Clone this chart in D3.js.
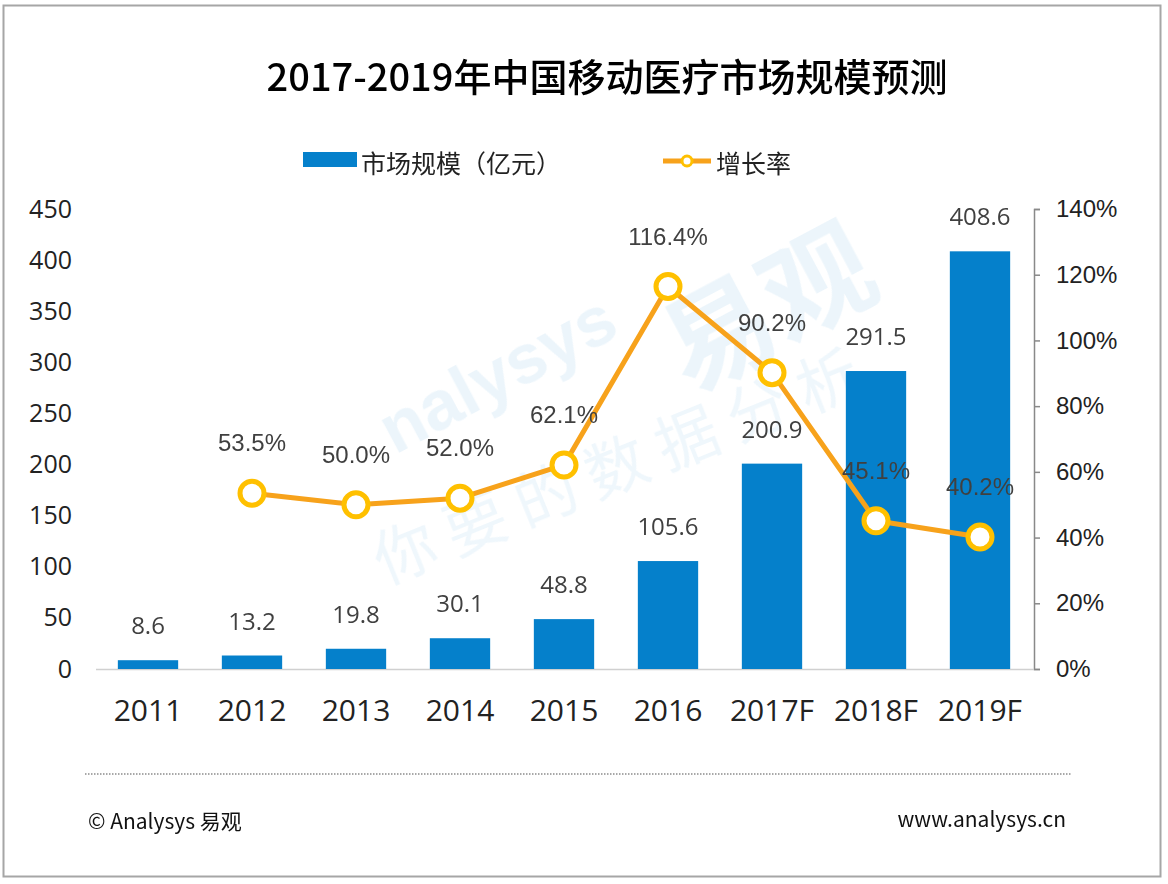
<!DOCTYPE html>
<html>
<head>
<meta charset="utf-8">
<script src="https://cdn.jsdelivr.net/npm/d3@7"></script>
<style>
  html, body { margin: 0; padding: 0; background: #fff; }
  svg { display: block; }
</style>
</head>
<body>
<div id="chart"></div>
<script>
// chart data
var years = ['2011', '2012', '2013', '2014', '2015', '2016', '2017F', '2018F', '2019F'];
var marketSize = [8.6, 13.2, 19.8, 30.1, 48.8, 105.6, 200.9, 291.5, 408.6];
var growthYears = ['2012', '2013', '2014', '2015', '2016', '2017F', '2018F', '2019F'];
var growthRate = [53.5, 50.0, 52.0, 62.1, 116.4, 90.2, 45.1, 40.2];
var leftTicks = [0, 50, 100, 150, 200, 250, 300, 350, 400, 450];
var rightTicks = [0, 20, 40, 60, 80, 100, 120, 140];

var title = '2017-2019年中国移动医疗市场规模预测';
var barName = '市场规模（亿元）';
var lineName = '增长率';

var width = 1168, height = 884;
var plot = { left: 96, right: 1034, top: 209, bottom: 669 };
var barColor = '#0580CB';
var lineColor = '#F7A21B';
var markerColor = '#FFC000';
var cjk = '"Noto Sans CJK SC", "Noto Sans", sans-serif';
var num = '"Open Sans", "Noto Sans", sans-serif';
var arial = '"Liberation Sans", Arial, sans-serif';

var svg = d3.select('#chart').append('svg')
  .attr('width', width)
  .attr('height', height);

// frame
svg.append('rect')
  .attr('x', 3.5).attr('y', 5.5)
  .attr('width', 1157).attr('height', 871)
  .attr('fill', '#fff')
  .attr('stroke', '#a6a6a6')
  .attr('stroke-width', 2);

// watermark
var wm = svg.append('g').attr('opacity', 0.4);
wm.append('text')
  .attr('transform', 'translate(395,455) rotate(-28)')
  .attr('font-family', arial)
  .attr('font-weight', 'bold')
  .attr('font-size', 70)
  .attr('fill', '#cfe6f5')
  .text('nalysys');
wm.append('text')
  .attr('transform', 'translate(690,395) rotate(-28)')
  .attr('font-family', cjk)
  .attr('font-weight', 'bold')
  .attr('font-size', 110)
  .attr('fill', '#cfe6f5')
  .text('易观');
wm.append('text')
  .attr('transform', 'translate(385,585) rotate(-22)')
  .attr('font-family', cjk)
  .attr('font-size', 62)
  .attr('letter-spacing', 14)
  .attr('fill', '#d6eaf7')
  .text('你要的数据分析');

// title
svg.append('text')
  .attr('x', 607).attr('y', 91)
  .attr('text-anchor', 'middle')
  .attr('font-family', cjk)
  .attr('font-size', 38)
  .attr('font-weight', 500)
  .attr('fill', '#000')
  .text(title);

// legend
svg.append('rect')
  .attr('x', 303).attr('y', 152)
  .attr('width', 54).attr('height', 15)
  .attr('fill', barColor);
svg.append('text')
  .attr('x', 361).attr('y', 173)
  .attr('font-family', cjk)
  .attr('font-size', 25)
  .attr('fill', '#222')
  .text(barName);
svg.append('line')
  .attr('x1', 663).attr('x2', 711)
  .attr('y1', 161).attr('y2', 161)
  .attr('stroke', lineColor)
  .attr('stroke-width', 5);
svg.append('circle')
  .attr('cx', 687).attr('cy', 161).attr('r', 5)
  .attr('fill', '#fff')
  .attr('stroke', markerColor)
  .attr('stroke-width', 3);
svg.append('text')
  .attr('x', 716).attr('y', 173)
  .attr('font-family', cjk)
  .attr('font-size', 25)
  .attr('fill', '#222')
  .text(lineName);

// scales
var xScale = d3.scaleBand()
  .domain(years)
  .range([plot.left, plot.right - 2])
  .paddingInner(0.42)
  .paddingOuter(0.21);
var yLeft = d3.scaleLinear()
  .domain([0, 450])
  .range([plot.bottom, plot.top]);
var yRight = d3.scaleLinear()
  .domain([0, 140])
  .range([plot.bottom, plot.top]);

// left axis (labels only)
var leftAxis = svg.append('g')
  .attr('transform', 'translate(72,0)')
  .call(d3.axisLeft(yLeft).tickValues(leftTicks).tickSize(0).tickPadding(0));
leftAxis.select('.domain').remove();
leftAxis.selectAll('text')
  .attr('font-family', num)
  .attr('font-size', 25)
  .attr('fill', '#222');

// right axis
var rightAxis = svg.append('g')
  .attr('transform', 'translate(' + plot.right + ',0)')
  .call(d3.axisRight(yRight)
    .tickValues(rightTicks)
    .tickSize(6)
    .tickSizeOuter(6)
    .tickPadding(16)
    .tickFormat(function(d){ return d + '%'; }));
rightAxis.select('.domain').attr('stroke', '#898989').attr('stroke-width', 1.5);
rightAxis.selectAll('.tick line').attr('stroke', '#898989').attr('stroke-width', 1.5);
rightAxis.selectAll('text')
  .attr('font-family', arial)
  .attr('font-size', 24)
  .attr('fill', '#222');

// baseline
svg.append('line')
  .attr('x1', plot.left).attr('x2', plot.right)
  .attr('y1', plot.bottom + 0.5).attr('y2', plot.bottom + 0.5)
  .attr('stroke', '#d0d0d0')
  .attr('stroke-width', 1.5);

// x axis labels
var xAxis = svg.append('g')
  .attr('transform', 'translate(0,' + (plot.bottom + 31) + ')')
  .call(d3.axisBottom(xScale).tickSize(0).tickPadding(0));
xAxis.select('.domain').remove();
xAxis.selectAll('text')
  .attr('font-family', num)
  .attr('font-size', 30)
  .attr('fill', '#222');

// bars
svg.append('g')
  .selectAll('rect')
  .data(marketSize)
  .enter()
  .append('rect')
  .attr('x', function(d, i){ return xScale(years[i]); })
  .attr('y', function(d){ return yLeft(d); })
  .attr('width', xScale.bandwidth())
  .attr('height', function(d){ return plot.bottom - yLeft(d); })
  .attr('fill', barColor);

svg.append('g')
  .selectAll('text')
  .data(marketSize)
  .enter()
  .append('text')
  .attr('x', function(d, i){ return xScale(years[i]) + xScale.bandwidth() / 2; })
  .attr('y', function(d){ return yLeft(d) - 26; })
  .attr('text-anchor', 'middle')
  .attr('font-family', num)
  .attr('font-size', 24)
  .attr('fill', '#404040')
  .text(function(d){ return d.toFixed(1); });

// growth line
var cx = function(i){ return xScale(growthYears[i]) + xScale.bandwidth() / 2; };
var linePath = d3.line()
  .x(function(d, i){ return cx(i); })
  .y(function(d){ return yRight(d); });

svg.append('path')
  .attr('d', linePath(growthRate))
  .attr('fill', 'none')
  .attr('stroke', lineColor)
  .attr('stroke-width', 5)
  .attr('stroke-linejoin', 'round');

svg.append('g')
  .selectAll('circle')
  .data(growthRate)
  .enter()
  .append('circle')
  .attr('cx', function(d, i){ return cx(i); })
  .attr('cy', function(d){ return yRight(d); })
  .attr('r', 12)
  .attr('fill', '#fff')
  .attr('stroke', markerColor)
  .attr('stroke-width', 5);

svg.append('g')
  .selectAll('text')
  .data(growthRate)
  .enter()
  .append('text')
  .attr('x', function(d, i){ return cx(i); })
  .attr('y', function(d){ return yRight(d) - 42; })
  .attr('text-anchor', 'middle')
  .attr('font-family', arial)
  .attr('font-size', 24)
  .attr('fill', '#404040')
  .text(function(d){ return d.toFixed(1) + '%'; });

// footer
svg.append('line')
  .attr('x1', 85).attr('x2', 1072)
  .attr('y1', 774).attr('y2', 774)
  .attr('stroke', '#8c8c8c')
  .attr('stroke-width', 1.5)
  .attr('stroke-dasharray', '1.5,1.5');
svg.append('text')
  .attr('x', 88).attr('y', 829)
  .attr('font-family', cjk)
  .attr('font-size', 21)
  .attr('fill', '#111')
  .text('© Analysys 易观');
svg.append('text')
  .attr('x', 1066).attr('y', 827)
  .attr('text-anchor', 'end')
  .attr('font-family', cjk)
  .attr('font-size', 21)
  .attr('fill', '#111')
  .text('www.analysys.cn');
</script>
</body>
</html>
